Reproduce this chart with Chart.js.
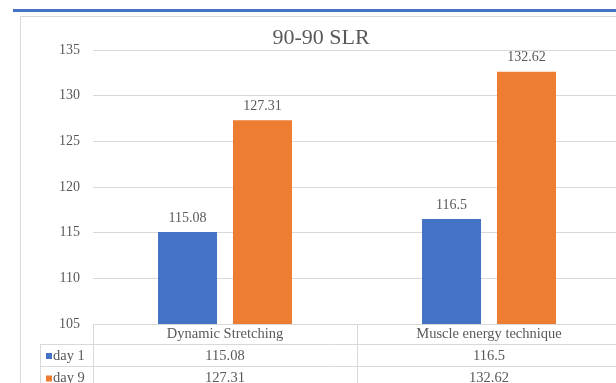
<!DOCTYPE html>
<html>
<head>
  <title>90-90 SLR</title>
  <script src="https://cdn.jsdelivr.net/npm/chart.js"></script>
  <style>
    html, body { margin: 0; padding: 0; background: #fff; overflow: hidden; width: 616px; height: 383px; }
    #rule { position: absolute; left: 13px; top: 9px; width: 620px; height: 3px; background: #4472c4; }
    #frame { position: absolute; left: 20px; top: 16px; width: 700px; height: 400px; border: 1px solid #d9d9d9; }
    #chart { position: absolute; left: 0; top: 0; }
  </style>
</head>
<body>
  <div id="rule"></div>
  <div id="frame"></div>
  <canvas id="chart" width="680" height="383"></canvas>

  <script>
    // chart data
    const categories = ['Dynamic Stretching', 'Muscle energy technique'];
    const seriesNames = ['day 1', 'day 9'];
    const day1 = [115.08, 116.5];
    const day9 = [127.31, 132.62];
    const yMin = 105, yMax = 135, yStep = 5;

    const blue = '#4472c4';
    const orange = '#ed7d31';
    const textGray = '#595959';
    const lineGray = '#d9d9d9';
    const serif = '"Liberation Serif", "Times New Roman", serif';

    // value labels above bars
    const barLabels = {
      id: 'barLabels',
      afterDatasetsDraw(chart) {
        const ctx = chart.ctx;
        ctx.save();
        ctx.font = '14px ' + serif;
        ctx.fillStyle = textGray;
        ctx.textAlign = 'center';
        ctx.textBaseline = 'bottom';
        chart.data.datasets.forEach((ds, i) => {
          chart.getDatasetMeta(i).data.forEach((bar, j) => {
            ctx.fillText(String(ds.data[j]), bar.x, bar.y - 7);
          });
        });
        ctx.restore();
      }
    };

    // title + Excel style data table under the plot
    const dataTable = {
      id: 'dataTable',
      afterDraw(chart) {
        const ctx = chart.ctx;
        const x = chart.scales.x;
        const area = chart.chartArea;
        const catW = (x.right - x.left) / categories.length;
        const top = area.bottom;
        const rows = [top, top + 20, top + 42, top + 65];
        const labelLeft = 40;

        ctx.save();
        ctx.font = '22px ' + serif;
        ctx.fillStyle = textGray;
        ctx.textAlign = 'center';
        ctx.textBaseline = 'middle';
        ctx.fillText('90-90 SLR', 321, 38);

        ctx.strokeStyle = lineGray;
        ctx.lineWidth = 1;
        ctx.beginPath();
        // horizontal lines
        ctx.moveTo(x.left, rows[0] + 0.5); ctx.lineTo(x.right, rows[0] + 0.5);
        for (let r = 1; r < rows.length; r++) {
          ctx.moveTo(labelLeft, rows[r] + 0.5); ctx.lineTo(x.right, rows[r] + 0.5);
        }
        // vertical lines
        for (let c = 0; c <= categories.length; c++) {
          const vx = Math.round(x.left + c * catW) + 0.5;
          ctx.moveTo(vx, rows[0]); ctx.lineTo(vx, rows[3]);
        }
        ctx.moveTo(labelLeft + 0.5, rows[1]); ctx.lineTo(labelLeft + 0.5, rows[3]);
        ctx.stroke();

        ctx.font = '14.5px ' + serif;
        ctx.fillStyle = textGray;
        categories.forEach((cat, j) => {
          const cx = x.getPixelForValue(j);
          ctx.fillText(cat, cx, (rows[0] + rows[1]) / 2);
          ctx.fillText(String(day1[j]), cx, (rows[1] + rows[2]) / 2 + 1);
          ctx.fillText(String(day9[j]), cx, (rows[2] + rows[3]) / 2 + 1);
        });

        const colors = [blue, orange];
        ctx.textAlign = 'left';
        seriesNames.forEach((name, i) => {
          const cy = (rows[i + 1] + rows[i + 2]) / 2 + 1;
          ctx.fillStyle = colors[i];
          ctx.fillRect(46, cy - 3, 6, 6);
          ctx.fillStyle = textGray;
          ctx.fillText(name, 53, cy);
        });
        ctx.restore();
      }
    };

    new Chart(document.getElementById('chart'), {
      type: 'bar',
      data: {
        labels: categories,
        datasets: [
          { label: seriesNames[0], data: day1, backgroundColor: blue },
          { label: seriesNames[1], data: day9, backgroundColor: orange }
        ]
      },
      options: {
        responsive: false,
        animation: false,
        categoryPercentage: 0.568,
        barPercentage: 0.787,
        layout: { padding: { top: 50, bottom: 59, left: 0, right: 59 } },
        plugins: {
          legend: { display: false },
          title: { display: false },
          tooltip: { enabled: false }
        },
        scales: {
          x: { display: false },
          y: {
            min: yMin,
            max: yMax,
            afterFit(scale) { scale.width = 93; },
            ticks: {
              stepSize: yStep,
              padding: 13,
              color: textGray,
              font: { size: 14, family: serif }
            },
            grid: { color: lineGray, drawTicks: false },
            border: { display: false }
          }
        }
      },
      plugins: [barLabels, dataTable]
    });
  </script>
</body>
</html>
